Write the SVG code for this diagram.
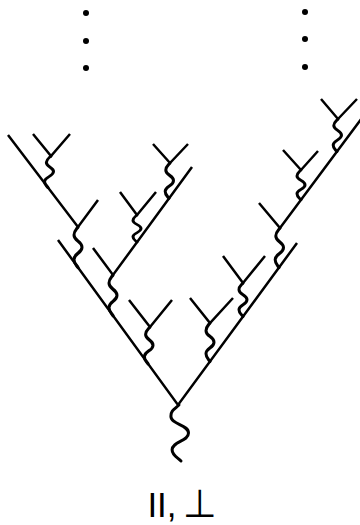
<svg xmlns="http://www.w3.org/2000/svg" xmlns:xlink="http://www.w3.org/1999/xlink" width="360" height="525" viewBox="0 0 360 525">
<style>
.arm{fill:none;stroke:#000;stroke-width:2.5;stroke-linecap:butt}
.wave{fill:none;stroke:#000;stroke-width:3;stroke-linecap:round}
.dot{fill:#000}
.lbl{font-family:"Liberation Sans",Arial,sans-serif;font-size:35px;fill:#000}
.sym{font-family:"DejaVu Sans",sans-serif;font-size:39px;fill:#000}
</style>
<defs>
<path id="sw" d="M0,0 C-2.4,2.8 -4,3.5 -4,7 C-4,12.25 4,12.25 4,17.5 C4,22.75 -4,22.75 -4,28 C-4,31.5 -1.6,32.9 0,35"/>
</defs>
<rect width="360" height="525" fill="#fff"/>
<g id="dots">
<circle class="dot" cx="86" cy="13" r="3"/>
<circle class="dot" cx="86" cy="41" r="3"/>
<circle class="dot" cx="86" cy="68" r="3"/>
<circle class="dot" cx="305" cy="12" r="3"/>
<circle class="dot" cx="305" cy="39" r="3"/>
<circle class="dot" cx="305" cy="67" r="3"/>
</g>
<g id="connectors">
<path class="wave" d="M179,405 C173.9,409.5 170.9,410.6 170.9,416.2 C170.9,424.6 188.5,424.6 188.5,433 C188.5,441.4 172.1,441.4 172.1,449.8 C172.1,455.4 177.6,457.6 181,461"/>
</g>
<g id="root"><path class="arm" d="M58,240 L178,405 L297,243"/></g>
<g id="nP1"><path class="arm" d="M129,300 L150,327 L172,300"/><use class="wave" xlink:href="#sw" transform="matrix(1,0,-0.057,1.05,150,327)"/></g>
<g id="nC"><path class="arm" d="M93,248 L113,275 L192,167"/><use class="wave" xlink:href="#sw" transform="matrix(1,0,0,1.16,113,275)"/></g>
<g id="nB"><path class="arm" d="M8,135 L78,227 L98,200"/><use class="wave" xlink:href="#sw" transform="matrix(1,0,0,1.157,78,227)"/></g>
<g id="nB1"><path class="arm" d="M33,134 L51,156 L70,134"/><use class="wave" xlink:href="#sw" transform="matrix(1,0,-0.086,0.903,51,156)"/></g>
<g id="nC1"><path class="arm" d="M120,192 L137,215 L156,192"/><use class="wave" xlink:href="#sw" transform="matrix(1,0,0,0.777,137,215)"/></g>
<g id="nC2"><path class="arm" d="M153,144 L170,163 L188,144"/><use class="wave" xlink:href="#sw" transform="matrix(1,0,-0.029,1.011,170,163)"/></g>
<g id="nR1"><path class="arm" d="M190,298 L210,323 L233,298"/><use class="wave" xlink:href="#sw" transform="matrix(1,0,0,1.097,210,323)"/></g>
<g id="nR2"><path class="arm" d="M223,256 L243,283 L265,256"/><use class="wave" xlink:href="#sw" transform="matrix(1,0,0,0.957,243,283)"/></g>
<g id="nA"><path class="arm" d="M259,203 L280,228 L362,118"/><use class="wave" xlink:href="#sw" transform="matrix(1,0,-0.029,1.129,280,228)"/></g>
<g id="nA1"><path class="arm" d="M283,150 L301,170 L318,151"/><use class="wave" xlink:href="#sw" transform="matrix(1,0,0,0.851,301,170)"/></g>
<g id="nA2"><path class="arm" d="M321,99 L338,119 L357,99"/><use class="wave" xlink:href="#sw" transform="matrix(1,0,-0.029,0.931,338,119)"/></g>
<g id="label">
<text class="lbl" x="147.4" y="517">II,</text>
<text class="sym" x="183" y="516.7">⊥</text>
</g>
</svg>
